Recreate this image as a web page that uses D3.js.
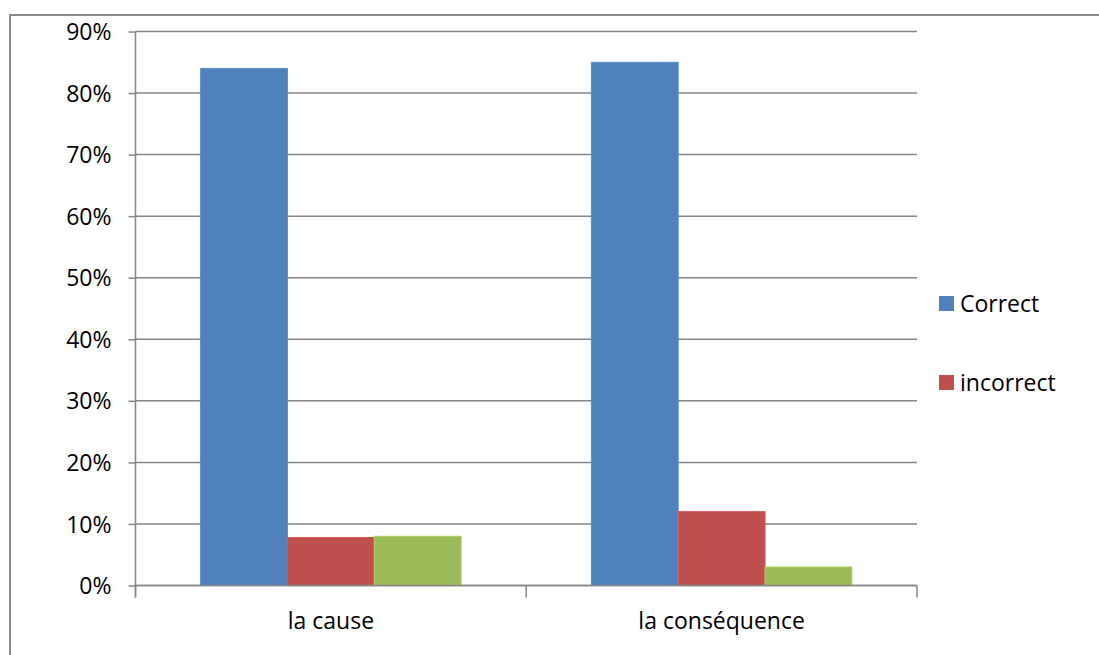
<!DOCTYPE html>
<html><head><meta charset="utf-8">
<script src="https://cdn.jsdelivr.net/npm/d3@7"></script>
<style>
html,body{margin:0;padding:0;background:#fff;}
svg{display:block;}
text{font-family:"Open Sans","Liberation Sans",sans-serif;fill:#000;}
</style></head>
<body>
<svg id="c" width="1099" height="655"></svg>
<script>
const categories = ["la cause", "la conséquence"];
const seriesNames = ["Correct", "incorrect", ""];
const correctValues = [0.84, 0.85];
const incorrectValues = [0.078, 0.12];
const otherValues = [0.08, 0.03];
const yTicks = [0, 0.1, 0.2, 0.3, 0.4, 0.5, 0.6, 0.7, 0.8, 0.9];
const colors = ["#4F81BD", "#C0504D", "#9BBB59"];

(function () {
const seriesValues = [correctValues, incorrectValues, otherValues];
const svg = d3.select("#c");
const FS = 23;

// outer frame
svg.append("rect").attr("x", 10).attr("y", 15).attr("width", 1200).attr("height", 800)
  .attr("fill", "none").attr("stroke", "#8a8a8a").attr("stroke-width", 2);

const pLeft = 135.5, pRight = 917, pTop = 31.5, pBottom = 585.5;
const y = d3.scaleLinear().domain([0, 0.9]).range([pBottom, pTop]);
const x0 = d3.scaleBand().domain(categories).range([pLeft, pRight]).paddingInner(0).paddingOuter(0);
const x1 = d3.scaleBand().domain(d3.range(seriesNames.length)).range([0, x0.bandwidth()]).paddingInner(0).paddingOuter(0.75);

// gridlines
svg.append("g").selectAll("line").data(yTicks).join("line")
  .attr("x1", pLeft).attr("x2", pRight)
  .attr("y1", d => y(d)).attr("y2", d => y(d))
  .attr("stroke", "#868686").attr("stroke-width", 1.5);

// y axis
const yAxis = d3.axisLeft(y).tickValues(yTicks).tickFormat(d3.format(".0%")).tickSize(7).tickPadding(17);
const gy = svg.append("g").attr("transform", `translate(${pLeft},0)`).call(yAxis);
gy.select(".domain").attr("stroke", "#868686").attr("stroke-width", 1.5).attr("d", `M0,${pTop}V${pBottom + 12}`);
gy.selectAll(".tick line").attr("stroke", "#868686").attr("stroke-width", 1.5);
gy.selectAll(".tick text").attr("font-size", FS).attr("font-family", "Open Sans").attr("fill", "#000").attr("dy", "0.35em");

// bars
const groups = svg.append("g").selectAll("g").data(categories).join("g")
  .attr("transform", d => `translate(${x0(d)},0)`);
groups.selectAll("rect").data((d, i) => seriesValues.map((s, j) => ({ j, v: s[i] }))).join("rect")
  .attr("x", d => x1(d.j)).attr("width", x1.bandwidth())
  .attr("y", d => y(d.v)).attr("height", d => y(0) - y(d.v))
  .attr("fill", d => colors[d.j])
  .attr("stroke", d => d3.color(colors[d.j]).brighter(0.3)).attr("stroke-width", 1);

// x axis baseline and ticks
const xBounds = [pLeft, ...categories.map(c => x0(c) + x0.bandwidth())];
svg.append("line").attr("x1", pLeft).attr("x2", pRight).attr("y1", pBottom).attr("y2", pBottom)
  .attr("stroke", "#868686").attr("stroke-width", 1.5);
svg.append("g").selectAll("line").data(xBounds).join("line")
  .attr("x1", d => d).attr("x2", d => d).attr("y1", pBottom).attr("y2", pBottom + 12)
  .attr("stroke", "#868686").attr("stroke-width", 1.5);
svg.append("g").selectAll("text").data(categories).join("text")
  .attr("x", d => x0(d) + x0.bandwidth() / 2).attr("y", 629)
  .attr("text-anchor", "middle").attr("font-size", FS).text(d => d);

// legend
const legendItems = seriesNames.map((n, i) => ({ n, i })).filter(d => d.n !== "");
const lg = svg.append("g").selectAll("g").data(legendItems).join("g")
  .attr("transform", (d, k) => `translate(939,${296 + k * 79})`);
lg.append("rect").attr("width", 15).attr("height", 15).attr("fill", d => colors[d.i]);
lg.append("text").attr("x", 21).attr("y", 7.5).attr("dy", "0.35em").attr("font-size", FS).text(d => d.n);
})();
</script>
</body></html>
